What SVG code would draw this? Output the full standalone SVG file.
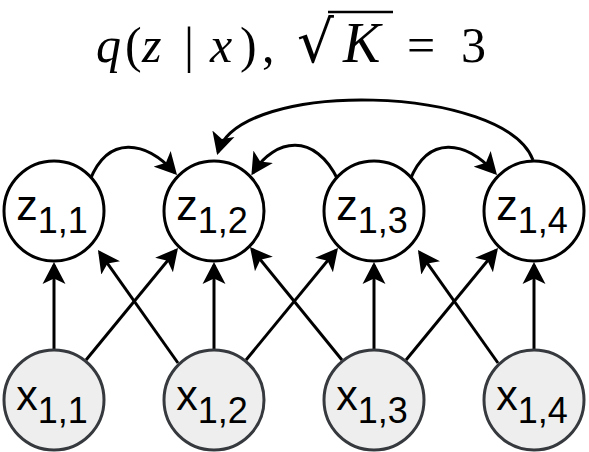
<svg xmlns="http://www.w3.org/2000/svg" width="589" height="452" viewBox="0 0 589 452">
<style>
.edge{fill:none;stroke:#000;stroke-width:3;marker-end:url(#ah)}
.zn{fill:#fff;stroke:#000;stroke-width:3}
.xn{fill:#eeeeee;stroke:#36393d;stroke-width:3}
.lbl{font-family:"Liberation Sans",Arial,sans-serif;fill:#000;text-anchor:middle;font-size:43px}
.sub{font-size:36px}
.ttl{font-family:"Liberation Serif","Times New Roman",serif;font-size:50px;fill:#000}
.it{font-style:italic}
</style>
<defs>
<marker id="ah" markerUnits="userSpaceOnUse" markerWidth="24" markerHeight="24" viewBox="0 -12 24 24" refX="19" refY="0" orient="auto">
<path d="M22 0 L0 -11.5 L5.5 0 L0 11.5 Z" fill="#000"/>
</marker>
</defs>
<g id="title">
<text class="ttl" y="62"><tspan x="96" class="it">q</tspan><tspan x="125">(</tspan><tspan x="142" class="it">z</tspan><tspan x="184">|</tspan><tspan x="210" class="it">x</tspan><tspan x="240">)</tspan><tspan x="262">,</tspan><tspan x="343" class="it" font-size="56">K</tspan><tspan x="407">=</tspan><tspan x="461">3</tspan></text>
<text x="297" y="62" font-family="DejaVu Serif, serif" font-size="58">√</text>
<line x1="328" y1="12" x2="393" y2="12" stroke="#000" stroke-width="2.5"/>
</g>
<g id="connectors">
<path class="edge" d="M54 350 L54 265"/>
<path class="edge" d="M214 350 L214 265"/>
<path class="edge" d="M374 350 L374 265"/>
<path class="edge" d="M534 350 L534 265"/>
<path class="edge" d="M86 360 L176.1 250.3"/>
<path class="edge" d="M246 360 L336.1 250.3"/>
<path class="edge" d="M406 360 L496.1 250.3"/>
<path class="edge" d="M178 363 L99.7 252.45"/>
<path class="edge" d="M342 360 L251.9 249.3"/>
<path class="edge" d="M498 363 L419.7 252.45"/>
<path class="edge" d="M90 180 C108 135 145 140 175 172.8"/>
<path class="edge" d="M410 180 C428 135 465 140 495 172.8"/>
<path class="edge" d="M338 180 C315 132 275 138 253 172.8"/>
<path class="edge" d="M533 160 C505 85 240 78 218 152"/>
</g>
<g id="z11"><circle class="zn" cx="54" cy="211" r="50"/><text class="lbl" x="52" y="220">z<tspan class="sub" dy="13">1,1</tspan></text></g>
<g id="z12"><circle class="zn" cx="214" cy="211" r="50"/><text class="lbl" x="212" y="220">z<tspan class="sub" dy="13">1,2</tspan></text></g>
<g id="z13"><circle class="zn" cx="374" cy="211" r="50"/><text class="lbl" x="372" y="220">z<tspan class="sub" dy="13">1,3</tspan></text></g>
<g id="z14"><circle class="zn" cx="534" cy="211" r="50"/><text class="lbl" x="532" y="220">z<tspan class="sub" dy="13">1,4</tspan></text></g>
<g id="x11"><circle class="xn" cx="54" cy="400" r="50"/><text class="lbl" x="52" y="410">x<tspan class="sub" dy="13">1,1</tspan></text></g>
<g id="x12"><circle class="xn" cx="214" cy="400" r="50"/><text class="lbl" x="212" y="410">x<tspan class="sub" dy="13">1,2</tspan></text></g>
<g id="x13"><circle class="xn" cx="374" cy="400" r="50"/><text class="lbl" x="372" y="410">x<tspan class="sub" dy="13">1,3</tspan></text></g>
<g id="x14"><circle class="xn" cx="534" cy="400" r="50"/><text class="lbl" x="532" y="410">x<tspan class="sub" dy="13">1,4</tspan></text></g>
</svg>
